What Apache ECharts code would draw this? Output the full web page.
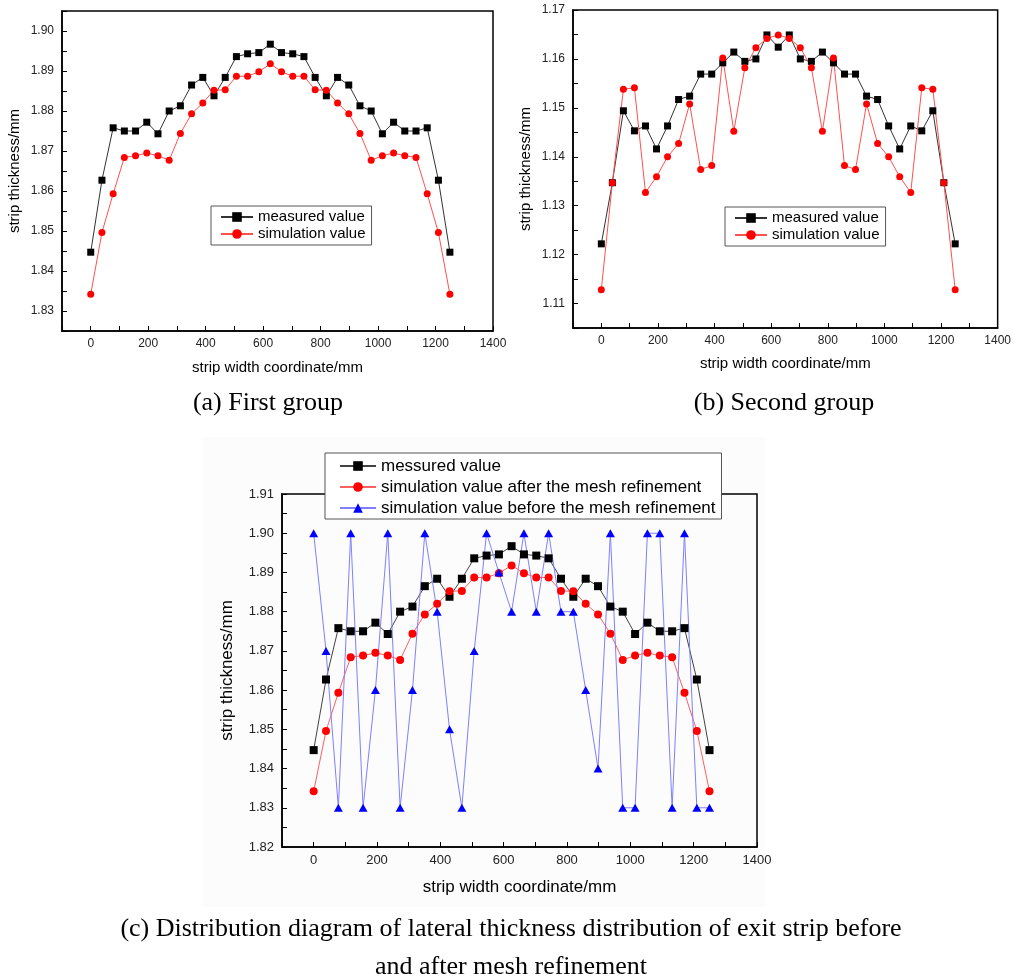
<!DOCTYPE html>
<html>
<head>
<meta charset="utf-8">
<script src="https://cdn.jsdelivr.net/npm/echarts@6/dist/echarts.min.js"></script>
<style>
  html, body { margin: 0; padding: 0; background: #fff; }
  #chart { width: 1014px; height: 976px; }
</style>
</head>
<body>
<div id="chart"></div>
<script>
// strip width positions (mm), shared by all three panels
const xPos = [0, 39, 78, 117, 156, 195, 234, 273, 312, 351, 390, 429, 468, 507, 546, 585,
  625, 664, 703, 742, 781, 820, 859, 898, 937, 976, 1015, 1054, 1093, 1132, 1171, 1210, 1250];

// (a) first group, also reused in (c)
const measuredA = [1.8447, 1.8627, 1.8758, 1.8750, 1.8750, 1.8772, 1.8743, 1.8800, 1.8813,
  1.8865, 1.8884, 1.8838, 1.8884, 1.8936, 1.8943, 1.8946, 1.8967, 1.8946, 1.8943, 1.8936,
  1.8884, 1.8838, 1.8884, 1.8865, 1.8813, 1.8800, 1.8743, 1.8772, 1.8750, 1.8750, 1.8758,
  1.8627, 1.8447];
const simulatedA = [1.8342, 1.8496, 1.8593, 1.8684, 1.8688, 1.8695, 1.8688, 1.8677, 1.8744,
  1.8793, 1.8820, 1.8852, 1.8853, 1.8887, 1.8887, 1.8898, 1.8918, 1.8898, 1.8887, 1.8887,
  1.8853, 1.8852, 1.8820, 1.8793, 1.8744, 1.8677, 1.8688, 1.8695, 1.8688, 1.8684, 1.8593,
  1.8496, 1.8342];

// (b) second group
const measuredB = [1.1222, 1.1347, 1.1494, 1.1453, 1.1463, 1.1416, 1.1463, 1.1517, 1.1524,
  1.1569, 1.1569, 1.1592, 1.1614, 1.1595, 1.1600, 1.1649, 1.1624, 1.1649, 1.1600, 1.1595,
  1.1614, 1.1592, 1.1569, 1.1569, 1.1524, 1.1517, 1.1463, 1.1416, 1.1463, 1.1453, 1.1494,
  1.1347, 1.1222];
const simulatedB = [1.1128, 1.1347, 1.1538, 1.1541, 1.1327, 1.1359, 1.1400, 1.1427, 1.1508,
  1.1374, 1.1382, 1.1602, 1.1452, 1.1582, 1.1623, 1.1642, 1.1649, 1.1642, 1.1623, 1.1582,
  1.1452, 1.1602, 1.1382, 1.1374, 1.1508, 1.1427, 1.1400, 1.1359, 1.1327, 1.1541, 1.1538,
  1.1347, 1.1128];

// (c) simulation before mesh refinement
const coarseC = [1.90, 1.87, 1.83, 1.90, 1.83, 1.86, 1.90, 1.83, 1.86, 1.90, 1.88, 1.85, 1.83,
  1.87, 1.90, 1.89, 1.88, 1.90, 1.88, 1.90, 1.88, 1.88, 1.86, 1.84, 1.90, 1.83, 1.83, 1.90,
  1.90, 1.83, 1.90, 1.83, 1.83];

const legendAB = ["measured value", "simulation value"];
const legendC = ["messured value", "simulation value after the mesh refinement",
  "simulation value before the mesh refinement"];

const FONT = "Liberation Sans, Arial, sans-serif";
const SERIF = "26px 'Liberation Serif', 'Times New Roman', serif";

function pairs(xs, ys) {
  return xs.map((x, i) => [x, ys[i]]);
}

function xAxisFor(grid, labelSize, nameSize, nameGap) {
  return {
    type: "value", gridIndex: grid, min: -100, max: 1400, interval: 100,
    name: "strip width coordinate/mm", nameLocation: "middle", nameGap: nameGap,
    nameTextStyle: { fontFamily: FONT, fontSize: nameSize, color: "#000" },
    axisLine: { show: true, onZero: false, lineStyle: { color: "#000", width: 1.5 } },
    axisTick: { show: true, inside: true, length: 5, lineStyle: { color: "#000", width: 1 } },
    axisLabel: {
      fontFamily: FONT, fontSize: labelSize, color: "#222", margin: 7,
      formatter: (v) => (v % 200 === 0 ? String(v) : "")
    },
    splitLine: { show: false }
  };
}

function yAxisFor(grid, min, max, labelSize, nameSize, nameGap) {
  return {
    type: "value", gridIndex: grid, min: min, max: max, interval: 0.005,
    name: "strip thickness/mm", nameLocation: "middle", nameGap: nameGap,
    nameTextStyle: { fontFamily: FONT, fontSize: nameSize, color: "#000" },
    axisLine: { show: true, onZero: false, lineStyle: { color: "#000", width: 1.5 } },
    axisTick: { show: true, inside: true, length: 5, lineStyle: { color: "#000", width: 1 } },
    axisLabel: {
      fontFamily: FONT, fontSize: labelSize, color: "#222", margin: 8,
      formatter: (v) => (Math.round(v * 1000) % 10 === 0 ? v.toFixed(2) : "")
    },
    splitLine: { show: false }
  };
}

function lineSeries(name, grid, ys, symbol, size, color, lineColor) {
  return {
    name: name, type: "line", xAxisIndex: grid, yAxisIndex: grid,
    data: pairs(xPos, ys), symbol: symbol, symbolSize: size,
    itemStyle: { color: color },
    lineStyle: { color: lineColor, width: 1 },
    emphasis: { disabled: true }
  };
}

function legendBox(names, left, top, fontSize, itemWidth, gap, padding) {
  return {
    data: names, orient: "vertical", left: left, top: top,
    itemWidth: itemWidth, itemHeight: 12, itemGap: gap, padding: padding,
    backgroundColor: "#fff", borderColor: "#555", borderWidth: 1,
    textStyle: { fontFamily: FONT, fontSize: fontSize, color: "#000", lineHeight: fontSize + 1 }
  };
}

const chart = echarts.init(document.getElementById("chart"));

const option = {
  animation: false,
  backgroundColor: "#fff",
  grid: [
    { left: 62, top: 11, width: 431, height: 320, show: true, borderColor: "#000", borderWidth: 1.5 },
    { left: 573, top: 10, width: 427, height: 318, show: true, borderColor: "#000", borderWidth: 1.5 },
    { left: 282, top: 494, width: 475, height: 353, show: true, borderColor: "#000", borderWidth: 1.5 }
  ],
  xAxis: [
    xAxisFor(0, 12, 15, 29),
    xAxisFor(1, 12, 15, 28),
    xAxisFor(2, 13, 17, 32)
  ],
  yAxis: [
    yAxisFor(0, 1.825, 1.905, 12, 15, 40),
    yAxisFor(1, 1.105, 1.17, 12, 15, 40),
    yAxisFor(2, 1.82, 1.91, 13, 17, 46)
  ],
  legend: [
    legendBox(legendAB, 211, 206, 15, 32, 1, [3, 6, 3, 9]),
    legendBox(legendAB, 725, 207, 15, 32, 1, [3, 6, 3, 9]),
    legendBox(legendC, 325, 453, 17, 36, 3, [4, 6, 2, 14])
  ],
  graphic: [
    {
      type: "rect", z: -10, silent: true,
      shape: { x: 203, y: 437, width: 562, height: 470 },
      style: { fill: "#fcfcfc" }
    },
    {
      type: "text", x: 268, y: 403,
      style: { text: "(a) First group", fill: "#000", font: SERIF, align: "center", verticalAlign: "middle" }
    },
    {
      type: "text", x: 784, y: 403,
      style: { text: "(b) Second group", fill: "#000", font: SERIF, align: "center", verticalAlign: "middle" }
    },
    {
      type: "text", x: 511, y: 929,
      style: { text: "(c) Distribution diagram of lateral thickness distribution of exit strip before", fill: "#000", font: SERIF, align: "center", verticalAlign: "middle" }
    },
    {
      type: "text", x: 511, y: 967,
      style: { text: "and after mesh refinement", fill: "#000", font: SERIF, align: "center", verticalAlign: "middle" }
    }
  ],
  series: [
    lineSeries("measured value", 0, measuredA, "rect", 7, "#000", "#333"),
    lineSeries("simulation value", 0, simulatedA, "circle", 7, "#ff0000", "#ff5050"),
    lineSeries("measured value", 1, measuredB, "rect", 7, "#000", "#333"),
    lineSeries("simulation value", 1, simulatedB, "circle", 7, "#ff0000", "#ff5050"),
    lineSeries("messured value", 2, measuredA, "rect", 8, "#000", "#444"),
    lineSeries("simulation value after the mesh refinement", 2, simulatedA, "circle", 8, "#ff0000", "#ff6060"),
    lineSeries("simulation value before the mesh refinement", 2, coarseC, "triangle", [9, 8], "#0000ff", "#8080ff")
  ]
};

chart.setOption(option);
</script>
</body>
</html>
